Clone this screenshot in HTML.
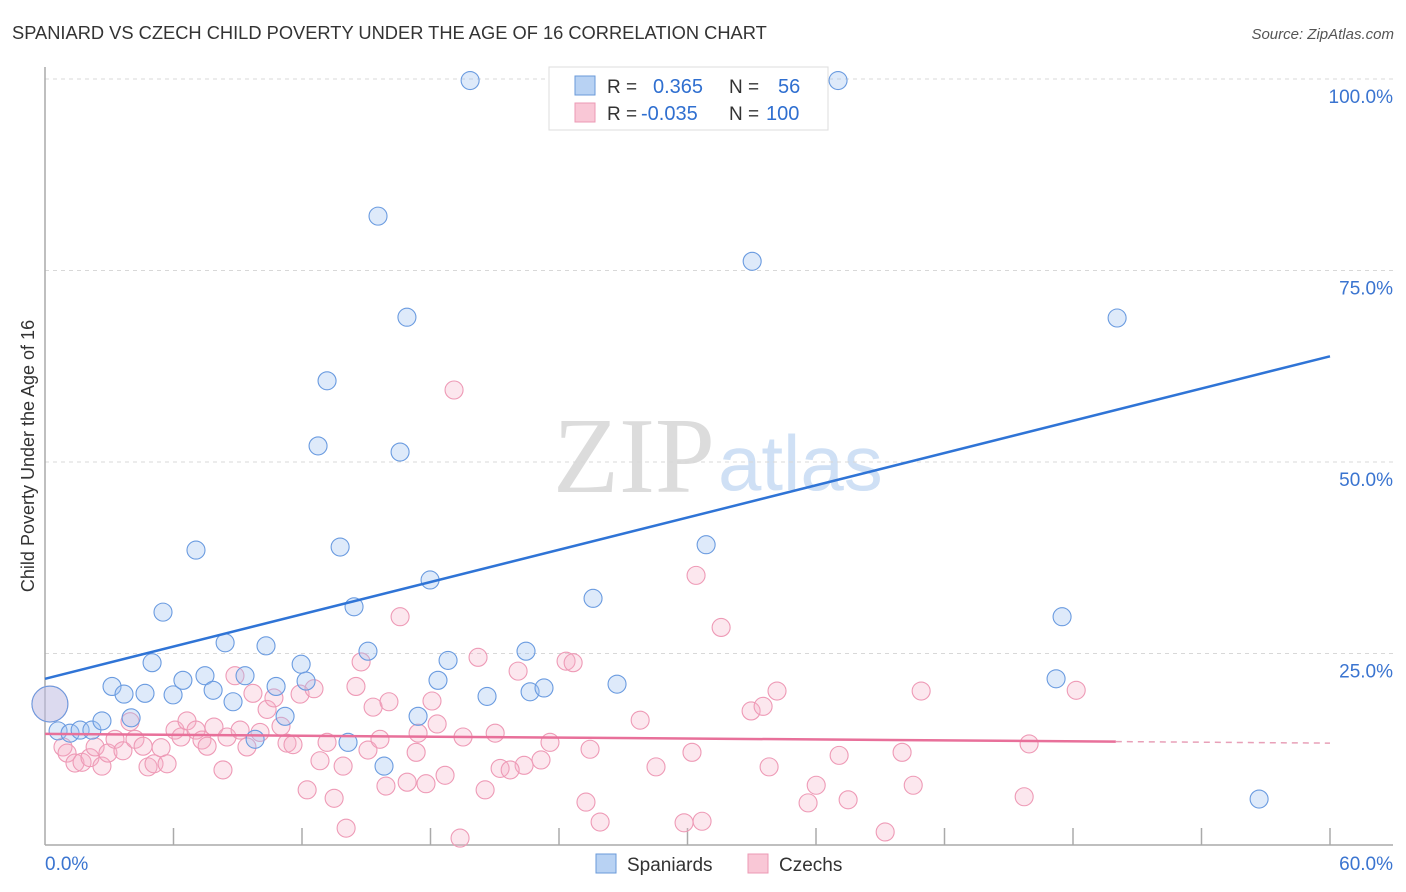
<!DOCTYPE html>
<html><head><meta charset="utf-8">
<style>
body{margin:0;background:#fff;font-family:"Liberation Sans",sans-serif;}
#wrap{position:relative;width:1406px;height:892px;overflow:hidden;}
</style></head>
<body><div id="wrap">
<svg id="svg" width="1406" height="892" xmlns="http://www.w3.org/2000/svg">
<text x="12" y="39" font-size="18.3" fill="#333">SPANIARD VS CZECH CHILD POVERTY UNDER THE AGE OF 16 CORRELATION CHART</text>
<text x="1394" y="39" font-size="15" fill="#555" font-style="italic" text-anchor="end">Source: ZipAtlas.com</text>
<text transform="translate(34,456) rotate(-90)" font-size="18" fill="#333" text-anchor="middle">Child Poverty Under the Age of 16</text>
<text x="553" y="492" font-size="108" fill="#dcdcdc" font-family="Liberation Serif,serif">ZIP</text>
<text x="718" y="490" font-size="78" fill="#cfe0f5">atlas</text>
<g id="grid"></g><g id="axes"></g><g id="pts"></g><g id="lines"></g>
<g>
<rect x="549" y="67" width="279" height="63" fill="#fff" stroke="#ddd"/>
<rect x="575" y="76" width="20" height="19" fill="#b8d2f3" stroke="#6a9ad8"/>
<rect x="575" y="103" width="20" height="19" fill="#f9c7d6" stroke="#ec9ab4"/>
<text x="607" y="93" font-size="19" fill="#333">R = </text><text x="653" y="93" font-size="20" fill="#2f6fd0">0.365</text>
<text x="729" y="93" font-size="19" fill="#333">N = </text><text x="778" y="93" font-size="20" fill="#2f6fd0">56</text>
<text x="607" y="120" font-size="19" fill="#333">R = </text><text x="641" y="120" font-size="20" fill="#2f6fd0">-0.035</text>
<text x="729" y="120" font-size="19" fill="#333">N = </text><text x="766" y="120" font-size="20" fill="#2f6fd0">100</text>
</g>
<g>
<rect x="596" y="854" width="20" height="19" fill="#b8d2f3" stroke="#6a9ad8"/>
<text x="627" y="871" font-size="19" fill="#333">Spaniards</text>
<rect x="748" y="854" width="20" height="19" fill="#f9c7d6" stroke="#ec9ab4"/>
<text x="779" y="871" font-size="19" fill="#333">Czechs</text>
</g>
</svg>
<script>
const blueX=[0.23,0.61,1.17,1.64,2.19,2.66,3.13,3.69,4.02,4.67,5.00,5.51,5.98,6.44,7.05,7.47,7.85,8.41,8.78,9.34,9.81,10.32,10.79,11.21,11.96,12.19,13.17,12.75,13.78,14.15,14.43,15.08,15.55,15.83,16.58,16.90,17.42,17.98,18.35,18.82,19.85,20.64,22.46,22.65,23.30,25.59,26.71,30.87,33.02,37.03,47.21,47.49,50.06,56.69,24.52,31.20];
const blueY=[18.4,14.9,14.6,15.0,15.0,16.2,20.7,19.7,16.6,19.8,23.8,30.4,19.6,21.5,38.5,22.1,20.2,26.4,18.7,22.1,13.8,26.0,20.7,16.8,23.6,21.4,60.6,52.1,38.9,13.4,31.1,25.3,82.1,10.3,51.3,68.9,16.8,34.6,21.5,24.1,99.8,19.4,25.3,20.0,20.5,32.2,21.0,39.2,76.2,99.8,21.7,29.8,68.8,6.0,99.8,99.8];
const pinkX=[0.23,0.84,1.03,1.40,1.73,2.10,2.34,2.66,2.94,3.27,3.64,3.97,4.20,4.58,4.81,5.09,5.42,5.70,6.07,6.35,6.63,7.05,7.33,7.57,7.89,8.31,8.50,8.87,9.11,9.43,9.71,10.04,10.37,10.69,11.02,11.30,11.58,11.91,12.24,12.56,12.84,13.17,13.50,13.92,14.06,14.52,14.76,15.08,15.32,15.64,15.92,16.06,16.58,16.91,17.33,17.42,17.79,18.07,18.31,18.68,19.10,19.52,20.22,20.55,21.02,21.25,19.38,22.09,24.33,24.66,23.58,25.45,27.79,23.16,22.37,21.72,25.26,25.92,28.53,30.21,29.84,30.68,30.40,31.57,32.97,33.53,34.18,33.81,36.01,35.63,37.08,37.50,39.23,40.02,40.54,40.91,45.72,45.95,48.15];
const pinkY=[18.4,12.8,12.0,10.7,10.8,11.4,12.8,10.3,12.0,13.8,12.3,16.1,13.8,12.9,10.2,10.6,12.7,10.6,15.0,14.1,16.2,15.0,13.7,12.9,15.4,9.8,14.1,22.1,15.0,12.8,19.8,14.7,17.7,19.2,15.5,13.3,13.1,19.7,7.2,20.4,11.0,13.4,6.1,10.3,2.2,20.7,23.9,12.4,18.0,13.8,7.7,18.7,29.8,8.2,12.1,14.6,8.0,18.8,15.8,9.1,59.4,14.1,24.5,7.2,14.6,10.0,0.9,22.7,24.0,23.8,13.4,12.5,16.3,11.1,10.4,9.8,5.6,3.0,10.2,12.1,2.9,3.1,35.2,28.4,17.5,18.1,20.1,10.2,7.8,5.5,11.7,5.9,1.7,12.1,7.8,20.1,6.3,13.2,20.2];
const blueTrend=[21.7,63.8];
const pinkTrend=[14.5,13.3];
const yTicks=[25,50,75,100];
const yTickLabels=["25.0%","50.0%","75.0%","100.0%"];
const xTickLabels=["0.0%","60.0%"];
const NS="http://www.w3.org/2000/svg";
const X0=45,X1=1330,Y0=845,Y100=79;
function sx(v){return X0+(X1-X0)*v/60;}
function sy(v){return Y0-(Y0-Y100)*v/100;}
function mk(tag,attrs,parent){const e=document.createElementNS(NS,tag);for(const k in attrs)e.setAttribute(k,attrs[k]);parent.appendChild(e);return e;}
const grid=document.getElementById('grid'),axes=document.getElementById('axes'),pts=document.getElementById('pts'),lines=document.getElementById('lines');
yTicks.forEach((t,i)=>{
  const l=mk('line',{x1:X0,x2:1393,y1:sy(t),y2:sy(t),stroke:'#d8d8d8','stroke-dasharray':'4,4'},grid);
  
  
  const tx=mk('text',{x:1393,y:sy(t)+24,'font-size':19,fill:'#3a74d0','text-anchor':'end'},axes);
  tx.textContent=yTickLabels[i];
  
  
});
let ya=mk('line',{x1:X0,x2:X0,y1:67,y2:Y0,stroke:'#aaa','stroke-width':1.5},axes);


let xa=mk('line',{x1:X0,x2:1393,y1:Y0,y2:Y0,stroke:'#aaa','stroke-width':1.5},axes);


for(let i=1;i<=10;i++){
  const tk=mk('line',{x1:sx(i*6),x2:sx(i*6),y1:828,y2:Y0,stroke:'#aaa','stroke-width':1.5},axes);
  
  
}
let xl0=mk('text',{x:45,y:870,'font-size':19,fill:'#3a74d0'},axes);xl0.textContent=xTickLabels[0];


let xl1=mk('text',{x:1393,y:870,'font-size':19,fill:'#3a74d0','text-anchor':'end'},axes);xl1.textContent=xTickLabels[1];


pinkX.forEach((v,i)=>{
  const c=mk('circle',{cx:sx(v),cy:sy(pinkY[i]),r:i===0?18:9,fill:'rgba(246,176,198,0.3)',stroke:'#ee9ab6','stroke-width':1.1},pts);
  
  
});
blueX.forEach((v,i)=>{
  const c=mk('circle',{cx:sx(v),cy:sy(blueY[i]),r:i===0?18:9,fill:'rgba(160,196,240,0.35)',stroke:'#6a9be0','stroke-width':1.1},pts);
  
  
});
let bl=mk('line',{x1:sx(0),y1:sy(blueTrend[0]),x2:sx(60),y2:sy(blueTrend[1]),stroke:'#2f74d6','stroke-width':2.5},lines);


const pm=pinkTrend[0]+(pinkTrend[1]-pinkTrend[0])*50/60;
let pl=mk('line',{x1:sx(0),y1:sy(pinkTrend[0]),x2:sx(50),y2:sy(pm),stroke:'#e8709a','stroke-width':2.5},lines);


let pd=mk('line',{x1:sx(50),y1:sy(pm),x2:sx(60),y2:sy(pinkTrend[1]),stroke:'#e8a0b8','stroke-width':1.5,'stroke-dasharray':'6,5'},lines);


</script>
</div></body></html>
